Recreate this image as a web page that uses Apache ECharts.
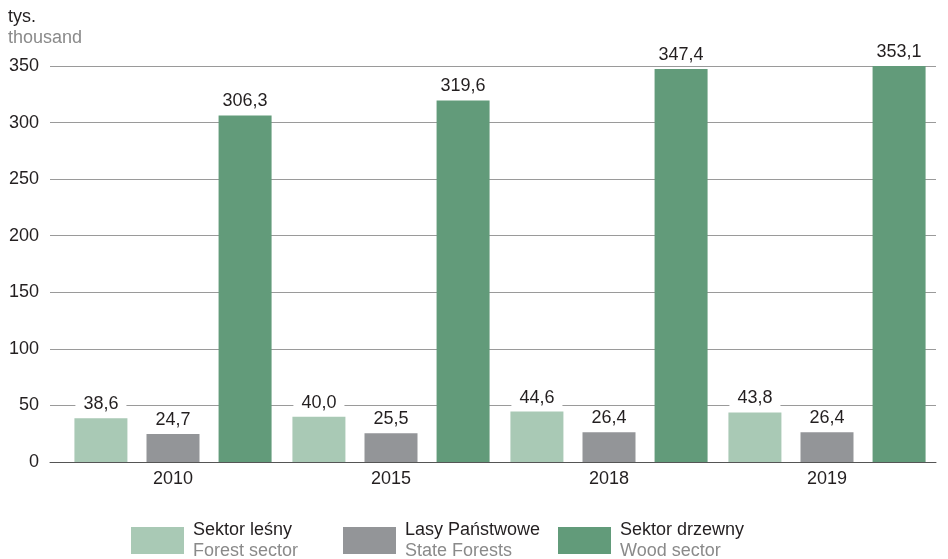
<!DOCTYPE html>
<html><head><meta charset="utf-8">
<script src="https://cdn.jsdelivr.net/npm/echarts@6/dist/echarts.min.js"></script>
<style>html,body{margin:0;padding:0;background:#fff}#c{width:948px;height:559px}</style>
</head><body><div id="c"></div>
<script>
const years = ['2010', '2015', '2018', '2019'];
const forestSector = [38.6, 40.0, 44.6, 43.8];
const stateForests = [24.7, 25.5, 26.4, 26.4];
const woodSector = [306.3, 319.6, 347.4, 353.1];
const seriesNames = ['Sektor leśny', 'Lasy Państwowe', 'Sektor drzewny'];
const seriesNamesEn = ['Forest sector', 'State Forests', 'Wood sector'];
const yTicks = [0, 50, 100, 150, 200, 250, 300, 350];

const colors = ['#a9c9b5', '#939598', '#629b7a'];
const font = 'Arial, "Liberation Sans", sans-serif';
const fs = 18;
const chart = echarts.init(document.getElementById('c'));
const label = {
  show: true, position: 'top', distance: 4,
  fontFamily: font, fontSize: fs, color: '#231f20',
  backgroundColor: '#fff', padding: [1, 8],
  formatter: p => p.value.toFixed(1).replace('.', ',')
};
const legendLeft = [131, 343, 558];
const yMin = yTicks[0], yMax = yTicks[yTicks.length - 1], yStep = yTicks[1] - yTicks[0];
chart.setOption({
  animation: false,
  textStyle: { fontFamily: font },
  grid: [
    { left: 50, right: 12, top: 66, bottom: 97 },
    { left: 64, right: 12, top: 66, bottom: 97 }
  ],
  xAxis: [
    { gridIndex: 0, type: 'category', data: years, boundaryGap: false,
      axisLine: { lineStyle: { color: '#555', width: 1 } },
      axisTick: { show: false }, axisLabel: { show: false }, splitLine: { show: false } },
    { gridIndex: 1, type: 'category', data: years,
      axisLine: { show: false }, axisTick: { show: false },
      axisLabel: { fontSize: fs, color: '#231f20', margin: 8, fontFamily: font } }
  ],
  yAxis: [
    { gridIndex: 0, type: 'value', min: yMin, max: yMax, interval: yStep,
      axisLabel: { fontSize: fs, color: '#231f20', margin: 11, fontFamily: font },
      splitLine: { lineStyle: { color: '#9a9a9a', width: 1 } },
      axisLine: { show: false }, axisTick: { show: false } },
    { gridIndex: 1, type: 'value', min: yMin, max: yMax, interval: yStep,
      axisLabel: { show: false }, splitLine: { show: false },
      axisLine: { show: false }, axisTick: { show: false } }
  ],
  legend: seriesNames.map((n, i) => ({
    data: [n], left: legendLeft[i], top: 521, padding: 0,
    itemWidth: 53, itemHeight: 27, itemGap: 10,
    icon: 'rect', selectedMode: false,
    formatter: name => '{a|' + name + '}\n{b|' + seriesNamesEn[i] + '}',
    textStyle: { rich: {
      a: { fontSize: fs, color: '#231f20', fontFamily: font, lineHeight: 21, padding: [0, 0, 0, 4] },
      b: { fontSize: fs, color: '#8a8a8a', fontFamily: font, lineHeight: 21, padding: [0, 0, 0, 4] }
    } }
  })),
  graphic: [
    { type: 'text', left: 8, top: 8, style: { text: 'tys.', fontSize: fs, fill: '#231f20', fontFamily: font } },
    { type: 'text', left: 8, top: 29, style: { text: 'thousand', fontSize: fs, fill: '#8a8a8a', fontFamily: font } }
  ],
  series: [
    { name: seriesNames[0], type: 'bar', xAxisIndex: 1, yAxisIndex: 1, data: forestSector, barWidth: 53, barGap: '36%', itemStyle: { color: colors[0] }, label },
    { name: seriesNames[1], type: 'bar', xAxisIndex: 1, yAxisIndex: 1, data: stateForests, barWidth: 53, barGap: '36%', itemStyle: { color: colors[1] }, label },
    { name: seriesNames[2], type: 'bar', xAxisIndex: 1, yAxisIndex: 1, data: woodSector, barWidth: 53, barGap: '36%', itemStyle: { color: colors[2] }, label }
  ]
});
</script></body></html>
